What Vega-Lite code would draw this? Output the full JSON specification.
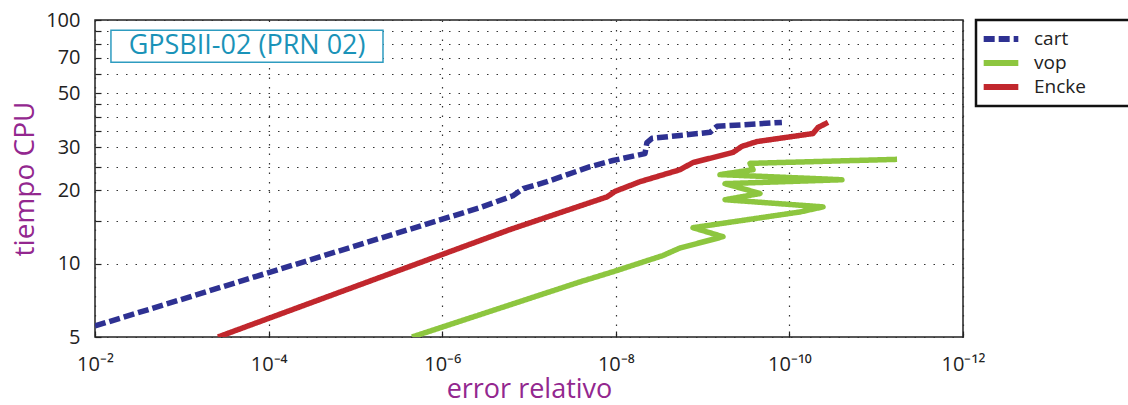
{
  "$schema": "https://vega.github.io/schema/vega-lite/v6.json",
  "width": 868,
  "height": 317,
  "autosize": {"type": "none"},
  "padding": {"left": 95, "top": 20, "right": 165, "bottom": 68},
  "background": "white",
  "config": {
    "font": "Open Sans",
    "view": {"stroke": "#222", "strokeWidth": 1.5},
    "axis": {
      "domain": false,
      "grid": true,
      "gridColor": "#333",
      "gridDash": [1.5, 8],
      "gridWidth": 1.2,
      "tickColor": "#222",
      "tickSize": -6,
      "tickWidth": 1.2,
      "labelColor": "#222",
      "labelFont": "Open Sans",
      "labelFontSize": 20,
      "titleFont": "Open Sans",
      "titleColor": "#93278F",
      "titleFontSize": 28,
      "titleFontWeight": "normal"
    },
    "legend": {
      "orient": "none",
      "legendX": 881,
      "legendY": 0,
      "strokeColor": "#111",
      "strokeWidth": 2.5,
      "fillColor": "white",
      "padding": 7,
      "symbolType": "M-2,0H2",
      "symbolSize": 300,
      "symbolStrokeWidth": 6,
      "symbolOffset": 6,
      "labelFont": "Open Sans, DejaVu Sans",
      "labelFontSize": 19,
      "labelColor": "#222",
      "labelOffset": 21,
      "rowPadding": 0
    }
  },
  "datasets": {
    "lines": [
      {"method": "cart", "i": 0, "err": 1e-2, "t": 5.55},
      {"method": "cart", "i": 1, "err": 3.67e-7, "t": 16.98},
      {"method": "cart", "i": 2, "err": 1.53e-7, "t": 19.0},
      {"method": "cart", "i": 3, "err": 1.17e-7, "t": 20.3},
      {"method": "cart", "i": 4, "err": 6.21e-8, "t": 21.7},
      {"method": "cart", "i": 5, "err": 1.98e-8, "t": 25.0},
      {"method": "cart", "i": 6, "err": 1.08e-8, "t": 26.5},
      {"method": "cart", "i": 7, "err": 4.61e-9, "t": 28.3},
      {"method": "cart", "i": 8, "err": 4.38e-9, "t": 31.4},
      {"method": "cart", "i": 9, "err": 3.83e-9, "t": 32.7},
      {"method": "cart", "i": 10, "err": 1.82e-9, "t": 33.6},
      {"method": "cart", "i": 11, "err": 8.22e-10, "t": 34.6},
      {"method": "cart", "i": 12, "err": 6.82e-10, "t": 36.6},
      {"method": "cart", "i": 13, "err": 1.22e-10, "t": 38.0},
      {"method": "vop", "i": 0, "err": 2.23e-6, "t": 5.0},
      {"method": "vop", "i": 1, "err": 2.58e-8, "t": 8.42},
      {"method": "vop", "i": 2, "err": 1.08e-8, "t": 9.26},
      {"method": "vop", "i": 3, "err": 2.86e-9, "t": 10.8},
      {"method": "vop", "i": 4, "err": 1.82e-9, "t": 11.6},
      {"method": "vop", "i": 5, "err": 5.82e-10, "t": 12.9},
      {"method": "vop", "i": 6, "err": 1.29e-9, "t": 14.05},
      {"method": "vop", "i": 7, "err": 7.55e-11, "t": 16.3},
      {"method": "vop", "i": 8, "err": 4.1e-11, "t": 17.1},
      {"method": "vop", "i": 9, "err": 5.52e-10, "t": 18.3},
      {"method": "vop", "i": 10, "err": 2.18e-10, "t": 19.4},
      {"method": "vop", "i": 11, "err": 5.52e-10, "t": 21.3},
      {"method": "vop", "i": 12, "err": 2.48e-11, "t": 22.1},
      {"method": "vop", "i": 13, "err": 6.31e-10, "t": 23.2},
      {"method": "vop", "i": 14, "err": 2.62e-10, "t": 24.3},
      {"method": "vop", "i": 15, "err": 2.84e-10, "t": 25.8},
      {"method": "vop", "i": 16, "err": 5.75e-12, "t": 26.8},
      {"method": "Encke", "i": 0, "err": 3.83e-4, "t": 5.0},
      {"method": "Encke", "i": 1, "err": 1.66e-7, "t": 13.8},
      {"method": "Encke", "i": 2, "err": 1.26e-8, "t": 18.8},
      {"method": "Encke", "i": 3, "err": 1.02e-8, "t": 19.8},
      {"method": "Encke", "i": 4, "err": 5.26e-9, "t": 21.7},
      {"method": "Encke", "i": 5, "err": 1.82e-9, "t": 24.3},
      {"method": "Encke", "i": 6, "err": 1.29e-9, "t": 26.0},
      {"method": "Encke", "i": 7, "err": 4.47e-10, "t": 28.6},
      {"method": "Encke", "i": 8, "err": 3.52e-10, "t": 30.3},
      {"method": "Encke", "i": 9, "err": 2.36e-10, "t": 31.7},
      {"method": "Encke", "i": 10, "err": 5.35e-11, "t": 34.2},
      {"method": "Encke", "i": 11, "err": 4.69e-11, "t": 36.2},
      {"method": "Encke", "i": 12, "err": 3.59e-11, "t": 38.0}
    ],
    "box": [
      {"label": "GPSBII-02 (PRN 02)", "err": 6.55e-3, "err2": 4.81e-6, "t": 67.1, "t2": 90.8, "errc": 1.77e-4, "tc": 78.0}
    ]
  },
  "layer": [
    {
      "data": {"name": "lines"},
      "mark": {"type": "line", "strokeWidth": 5.5, "clip": true, "strokeCap": "butt", "strokeJoin": "round"},
      "encoding": {
        "x": {
          "field": "err",
          "type": "quantitative",
          "title": "error relativo",
          "scale": {"type": "log", "domain": [1e-12, 1e-2], "reverse": true, "nice": false},
          "axis": {
            "values": [1e-2, 1e-4, 1e-6, 1e-8, 1e-10, 1e-12],
            "labelExpr": "datum.value > 5e-3 ? '10⁻²' : datum.value > 5e-5 ? '10⁻⁴' : datum.value > 5e-7 ? '10⁻⁶' : datum.value > 5e-9 ? '10⁻⁸' : datum.value > 5e-11 ? '10⁻¹⁰' : '10⁻¹²'",
            "labelFontSize": 20,
            "labelPadding": 23,
            "titlePadding": 2,
            "titleFontSize": 27,
            "labelFlush": false
          }
        },
        "y": {
          "field": "t",
          "type": "quantitative",
          "title": "tiempo CPU",
          "scale": {"type": "log", "domain": [5, 100], "nice": false},
          "axis": {
            "values": [5, 10, 15, 20, 25, 30, 35, 40, 45, 50, 60, 70, 80, 90, 100],
            "format": "d",
            "labelExpr": "indexof([5, 10, 20, 30, 50, 70, 100], datum.value) >= 0 ? datum.label : ''",
            "labelPadding": 21,
            "titlePadding": 6,
            "labelFlush": false
          }
        },
        "color": {
          "field": "method",
          "type": "nominal",
          "title": null,
          "scale": {"domain": ["cart", "vop", "Encke"], "range": ["#2E3192", "#8DC63F", "#C1272D"]},
          "legend": {"title": null, "labelExpr": "datum.label + '\u2800\u2800\u2800'"}
        },
        "strokeDash": {
          "field": "method",
          "type": "nominal",
          "title": null,
          "scale": {"domain": ["cart", "vop", "Encke"], "range": [[11, 4], [1, 0], [1, 0]]},
          "legend": {"title": null, "labelExpr": "datum.label + '\u2800\u2800\u2800'"}
        },
        "order": {"field": "i", "type": "quantitative"}
      }
    },
    {
      "data": {"name": "box"},
      "mark": {"type": "rect", "fill": "white", "stroke": "#2E9CC0", "strokeWidth": 1.5},
      "encoding": {
        "x": {"field": "err", "type": "quantitative", "title": "error relativo"},
        "x2": {"field": "err2"},
        "y": {"field": "t", "type": "quantitative", "title": "tiempo CPU"},
        "y2": {"field": "t2"}
      }
    },
    {
      "data": {"name": "box"},
      "mark": {"type": "text", "font": "Open Sans", "fontSize": 27, "color": "#1A93B8", "align": "center", "baseline": "middle"},
      "encoding": {
        "x": {"field": "errc", "type": "quantitative", "title": "error relativo"},
        "y": {"field": "tc", "type": "quantitative", "title": "tiempo CPU"},
        "text": {"field": "label"}
      }
    }
  ]
}
